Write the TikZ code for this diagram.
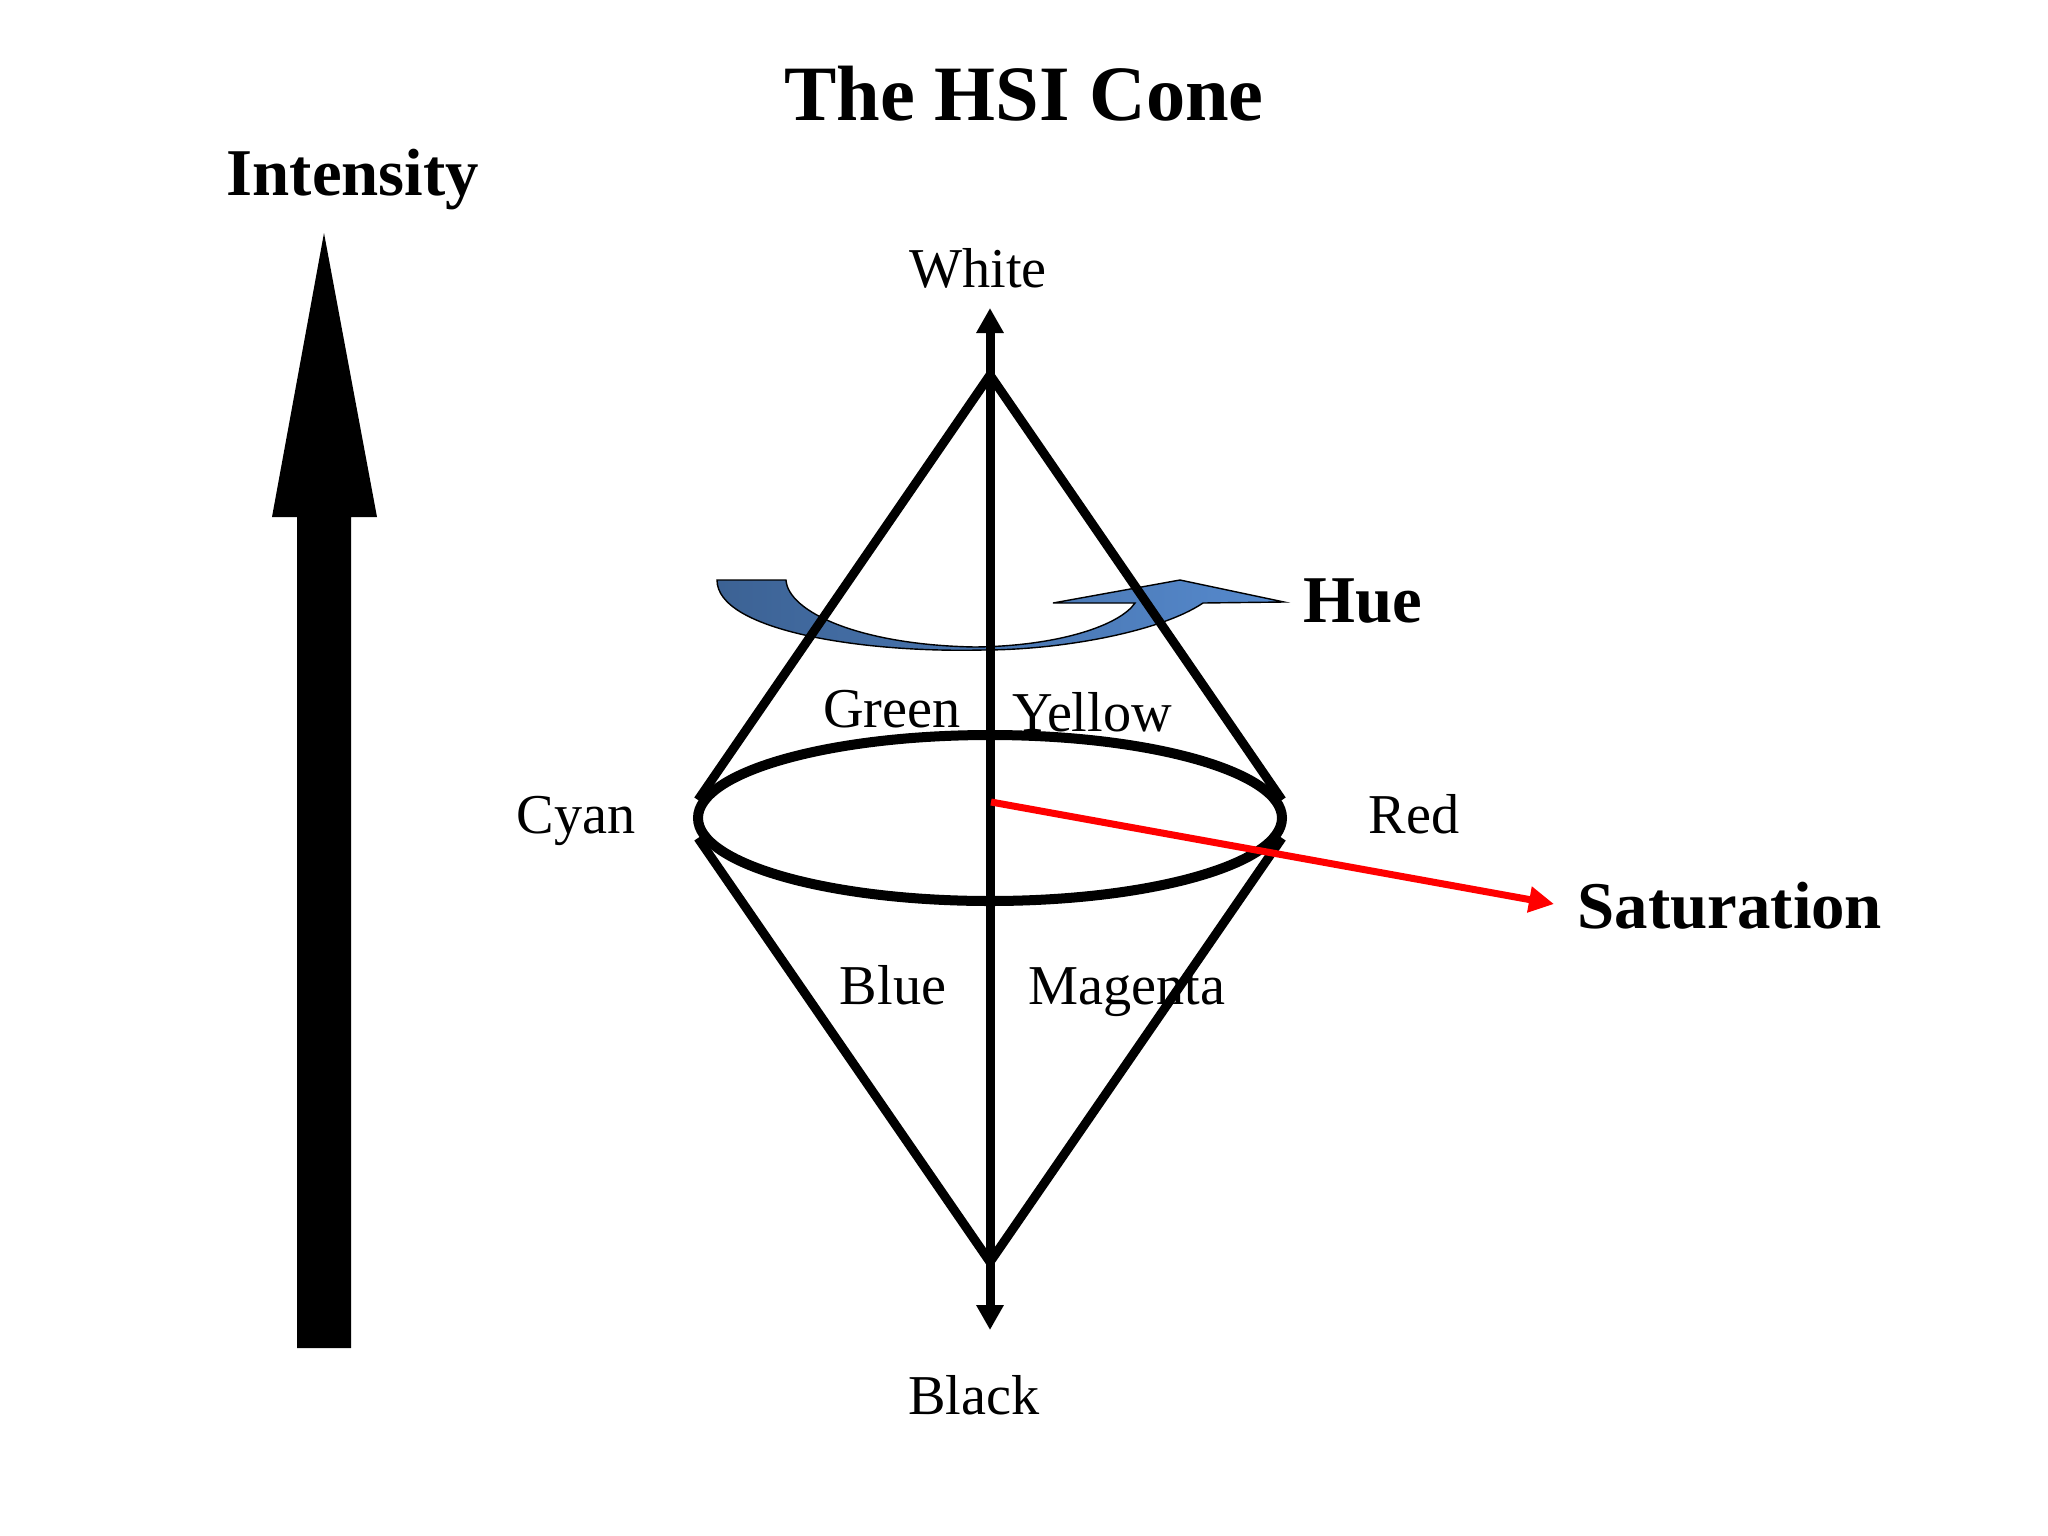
\documentclass[tikz,border=0pt]{standalone}
\usepackage{fontspec}
\setmainfont{Liberation Serif}
\usetikzlibrary{arrows.meta}
\definecolor{hueL}{RGB}{60,98,148}
\definecolor{hueR}{RGB}{86,138,206}
\tikzset{
  titletext/.style={font=\fontsize{22.3pt}{26pt}\selectfont\bfseries, anchor=base, inner sep=0pt},
  bigtext/.style={font=\fontsize{19pt}{22pt}\selectfont\bfseries, anchor=base, inner sep=0pt},
  labtext/.style={font=\fontsize{16pt}{19pt}\selectfont, anchor=base, inner sep=0pt},
  coneline/.style={line width=0.09cm, black},
  axisline/.style={line width=0.09cm, black, {Triangle[length=0.25cm,width=0.26cm]}-{Triangle[length=0.25cm,width=0.26cm]}},
  satline/.style={line width=0.07cm, red, -{Triangle[length=0.25cm,width=0.25cm]}},
  huearrow/.style={draw=black, line width=0.4pt, left color=hueL, right color=hueR},
}
\begin{document}
\begin{tikzpicture}[x=0.01cm, y=-0.01cm]
\useasboundingbox (0,0) rectangle (2048,1536);

% Intensity big arrow
\fill[black] (297,1348) -- (297,517) -- (272,517) -- (324,233) -- (377,517) -- (351,517) -- (351,1348) -- cycle;

% Hue arrow
\path[huearrow] (717,580) -- (786,580)
  .. controls (788,612) and (860,645) .. (975,647)
  .. controls (1060,646) and (1120,625) .. (1135,603)
  -- (1053,603) -- (1180,580) -- (1284,602) -- (1203,603)
  .. controls (1160,632) and (1060,650) .. (983,650)
  .. controls (860,653) and (717,630) .. (717,580) -- cycle;

% cone geometry
\coordinate (apexT) at (990,375);
\coordinate (apexB) at (990,1262);
\coordinate (ctr) at (990,818);
\coordinate (lt) at (698,800);
\coordinate (rt) at (1282,800);
\coordinate (lb) at (698,838);
\coordinate (rb) at (1282,838);
\coordinate (axT) at (990,308);
\coordinate (axB) at (990,1330);
\coordinate (satS) at (991,802);
\coordinate (satE) at (1554,904);

\draw[coneline] (lt) -- (apexT) -- (rt);
\draw[coneline] (lb) -- (apexB) -- (rb);
\draw[line width=0.1cm] (ctr) ellipse [x radius=292, y radius=83];
\draw[axisline] (axB) -- (axT);
\draw[satline] (satS) -- (satE);

% texts
\node[titletext] (title) at (1024,120) {The HSI Cone};
\node[bigtext] (intensity) at (353,195) {Intensity};
\node[bigtext, anchor=base west] (hue) at (1303,622) {Hue};
\node[bigtext, anchor=base west] (sat) at (1577,928) {Saturation};
\node[labtext] (white) at (978,287) {White};
\node[labtext] (black) at (974,1414) {Black};
\node[labtext] (cyan) at (576,833) {Cyan};
\node[labtext] (red) at (1414,833) {Red};
\node[labtext] (green) at (892,727) {Green};
\node[labtext] (yellow) at (1092,731) {Yellow};
\node[labtext] (blue) at (893,1004) {Blue};
\node[labtext] (magenta) at (1127,1004) {Magenta};
\end{tikzpicture}
\end{document}
